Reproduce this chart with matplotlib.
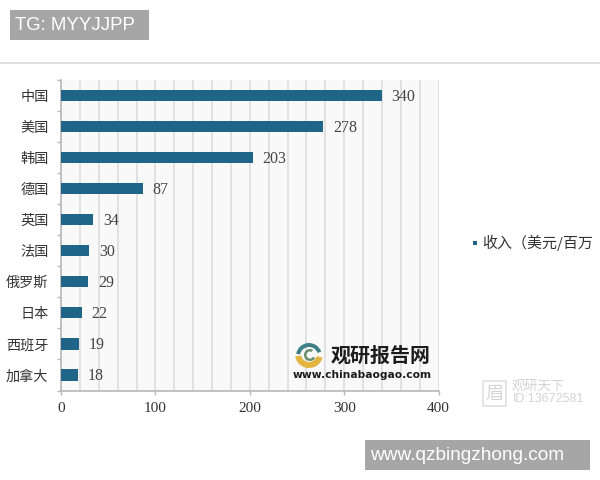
import matplotlib
matplotlib.use("Agg")
import matplotlib.pyplot as plt
from matplotlib.patches import Rectangle, Wedge
from matplotlib.lines import Line2D

plt.rcParams['font.family'] = ['Noto Sans CJK SC', 'DejaVu Sans']

countries = ['中国', '美国', '韩国', '德国', '英国', '法国', '俄罗斯', '日本', '西班牙', '加拿大']
revenue = [340, 278, 203, 87, 34, 30, 29, 22, 19, 18]
x_ticks = [0, 100, 200, 300, 400]
minor_ticks = [20, 40, 60, 80, 120, 140, 160, 180, 220, 240, 260, 280, 320, 340, 360, 380]
legend_label = '收入（美元/百万'
bar_color = '#1f6587'
W, H = 600, 480

def fx(px):
    return px / W

def fy(py):
    return 1 - py / H

fig = plt.figure(figsize=(6, 4.8), dpi=100, facecolor='white')

ax = fig.add_axes([fx(61), fy(390.5), fx(377.5), (390.5 - 80) / H])
ax.set_facecolor('#f9f9f9')
positions = list(range(len(countries)))
ax.barh(positions, revenue, height=0.36, color=bar_color, zorder=3)
ax.set_ylim(len(countries) - 0.5, -0.5)
ax.set_xlim(0, 400)
ax.set_xticks(x_ticks)
ax.set_xticks(minor_ticks, minor=True)
ax.grid(True, axis='x', which='both', color='#dadada', linewidth=1.1, zorder=1)
ax.set_axisbelow(True)
ax.set_yticks([p - 0.5 for p in positions] + [len(countries) - 0.5])
ax.set_yticklabels([])
ax.tick_params(axis='y', length=3, color='#b8b8b8', width=1)
ax.tick_params(axis='x', which='major', length=3, color='#b8b8b8', width=1, pad=5)
ax.tick_params(axis='x', which='minor', length=0)
for label in ax.get_xticklabels():
    label.set_fontfamily(['Liberation Serif', 'DejaVu Serif'])
    label.set_fontsize(11)
    label.set_color('#333333')
for side in ('top', 'right'):
    ax.spines[side].set_visible(False)
for side in ('left', 'bottom'):
    ax.spines[side].set_color('#b8b8b8')
    ax.spines[side].set_linewidth(1.2)

for p, name, value in zip(positions, countries, revenue):
    ax.annotate(name, (0, p), xytext=(-9, -1), textcoords='offset points',
                ha='right', va='center', fontsize=10.2, color='#333333')
    ax.annotate(str(value), (value, p), xytext=(7, -1), textcoords='offset points',
                ha='left', va='center', fontsize=11.5, color='#444444',
                family=['Liberation Serif', 'DejaVu Serif'], zorder=5)

# Header band, separator and footer band
fig.add_artist(Rectangle((fx(10), fy(40)), 139 / W, 30 / H, transform=fig.transFigure,
                         facecolor='#a6a6a6', edgecolor='none'))
fig.text(fx(15), fy(26), 'TG: MYYJJPP', color='white', fontsize=13.4, va='center',
         family=['Liberation Sans', 'DejaVu Sans'])
fig.add_artist(Line2D([0, 1], [fy(62.5), fy(62.5)], transform=fig.transFigure,
                      color='#d8d8d8', linewidth=1.2))
fig.add_artist(Rectangle((fx(365), fy(470)), 225 / W, 30 / H, transform=fig.transFigure,
                         facecolor='#a6a6a6', edgecolor='none'))
fig.text(fx(370), fy(455.5), 'www.qzbingzhong.com', color='white', fontsize=13.7, va='center',
         family=['Liberation Sans', 'DejaVu Sans'])

# Legend, running off the right edge like the reference
fig.add_artist(Rectangle((fx(473), fy(245)), 4 / W, 4 / H, transform=fig.transFigure,
                         facecolor=bar_color, edgecolor='none'))
fig.text(fx(482), fy(242.5), legend_label, fontsize=10.8, color='#333333', va='center')

# Site logo
logo_ax = fig.add_axes([fx(291), fy(368), fx(36), 26 / H])
logo_ax.set_xlim(-18, 18)
logo_ax.set_ylim(-13, 13)
logo_ax.axis('off')
logo_ax.add_patch(Wedge((0, -1), 13, 20, 170, width=4, facecolor='#3f7f86', edgecolor='none'))
logo_ax.add_patch(Wedge((0, 1), 14, 190, 345, width=6, facecolor='#e3b43f', edgecolor='none'))
logo_ax.add_patch(Wedge((1, 0), 6, 60, 330, width=2.5, facecolor='#6b8f6b', edgecolor='none'))
fig.text(fx(331), fy(355.5), '观研报告网', fontsize=14.4, fontweight='bold', color='#1c1c1c', va='center')
fig.text(fx(293), fy(375), 'www.chinabaogao.com', fontsize=7.7, fontweight='bold', color='#1c1c1c',
         va='center', family=['DejaVu Sans'])

# Faint image-stamp watermark
fig.add_artist(Rectangle((fx(483), fy(406)), 23 / W, 25 / H, transform=fig.transFigure,
                         facecolor='white', edgecolor='#e0e0e0', linewidth=1.2))
fig.text(fx(494.5), fy(393.5), '眉', fontsize=13, color='#d4d4d4', va='center', ha='center')
fig.text(fx(512), fy(386.5), '观研天下', fontsize=9.5, color='#d4d4d4', va='center')
fig.text(fx(513), fy(399), 'ID:13672581', fontsize=9, color='#d4d4d4', va='center',
         family=['Liberation Sans', 'DejaVu Sans'])

fig.savefig('out.png', dpi=100)
